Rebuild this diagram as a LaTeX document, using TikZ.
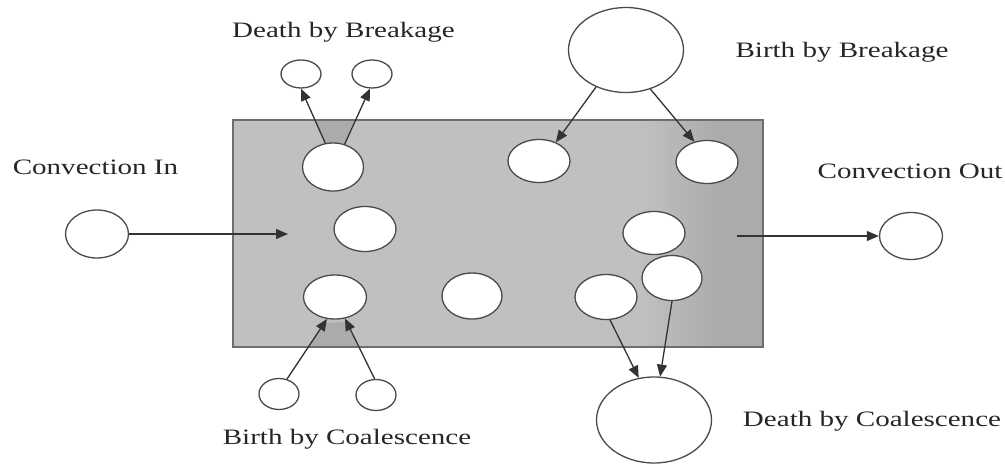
\documentclass[tikz,border=0pt]{standalone}
\usepackage{graphicx}
\usepackage{fontspec}
\setmainfont{Liberation Serif}
\usetikzlibrary{shapes.geometric,arrows.meta,calc}
\definecolor{boxgray}{HTML}{C0C0C0}
\definecolor{boxdark}{HTML}{ABABAB}
\definecolor{edgegray}{HTML}{6E6E6E}
\definecolor{ringgray}{HTML}{4A4A4A}
\definecolor{linegray}{HTML}{333333}
\tikzset{
  bub/.style={ellipse, draw=ringgray, fill=white, line width=1.3pt, inner sep=0pt},
  arr/.style={draw=linegray, line width=1.3pt, -{Triangle[length=12pt,width=10pt]}},
  lbl/.style={font=\fontsize{22}{26}\selectfont, text=black!85, inner sep=0pt, anchor=base}
}
\newcommand{\wide}[1]{\scalebox{1.32}[1]{#1}}
\begin{document}
\begin{tikzpicture}[x=1pt,y=-1pt]
\useasboundingbox (0,0) rectangle (1005,466);
% reactor box
\fill[boxgray] (233,120) rectangle (763,347);
\shade[left color=boxgray, right color=boxdark] (640,121) rectangle (721,346);
\fill[boxdark] (720,121) rectangle (762,346);
\fill[boxdark] (315,121) -- (354,121) -- (345,143) -- (325,143) -- cycle;
\fill[boxdark] (309,346) -- (359,346) -- (347,322) -- (325,323) -- cycle;
\draw[edgegray, line width=1.6pt] (233,120) rectangle (763,347);

% bubbles
\node[bub, minimum width=40pt, minimum height=28pt] (dbA) at (301,74) {};
\node[bub, minimum width=40pt, minimum height=28pt] (dbB) at (372,74) {};
\node[bub, minimum width=61pt, minimum height=48pt] (dbP) at (333,167) {};
\node[bub, minimum width=62pt, minimum height=45pt] (mL) at (365,229) {};
\node[bub, minimum width=63pt, minimum height=48pt] (cin) at (97,234) {};
\node[bub, minimum width=63pt, minimum height=44pt] (bcT) at (335,297) {};
\node[bub, minimum width=40pt, minimum height=31pt] (bcA) at (279,394) {};
\node[bub, minimum width=40pt, minimum height=31pt] (bcB) at (376,395) {};
\node[bub, minimum width=60pt, minimum height=46pt] (mC) at (472,296) {};
\node[bub, minimum width=115pt, minimum height=85pt] (bbP) at (626,50) {};
\node[bub, minimum width=62pt, minimum height=43pt] (uM) at (539,161) {};
\node[bub, minimum width=62pt, minimum height=43pt] (uR) at (707,162) {};
\node[bub, minimum width=62pt, minimum height=43pt] (rM) at (654,233) {};
\node[bub, minimum width=63pt, minimum height=47pt] (cout) at (911,236) {};
\node[bub, minimum width=62pt, minimum height=45pt] (lM) at (606,297) {};
\node[bub, minimum width=60pt, minimum height=45pt] (lR) at (672,278) {};
\node[bub, minimum width=115pt, minimum height=86pt] (dcP) at (654,420) {};

% free ends of convection arrows
\coordinate (cinEnd) at (288,234);
\coordinate (coutStart) at (737,236);

% connectors
\draw[arr] (dbP.108) -- (dbA.south);
\draw[arr] (dbP.63) -- (dbB.262);
\draw[arr] (bcA.62) -- (bcT.250);
\draw[arr] (bcB.95) -- (bcT.295);
\draw[arr] (cin.east) -- (cinEnd);
\draw[arr] (coutStart) -- (cout.west);
\draw[arr] (bbP.231) -- (uM.48);
\draw[arr] (bbP.302) -- (uR.122);
\draw[arr] (lM.280) -- (dcP.110);
\draw[arr] (lR.270) -- (dcP.82);

% labels
\node[lbl] (tDB) at (343.5,37) {\wide{Death by Breakage}};
\node[lbl] (tBB) at (842,57) {\wide{Birth by Breakage}};
\node[lbl] (tCI) at (95.5,174) {\wide{Convection In}};
\node[lbl] (tCO) at (910,178) {\wide{Convection Out}};
\node[lbl] (tBC) at (347,444) {\wide{Birth by Coalescence}};
\node[lbl] (tDC) at (872,426) {\wide{Death by Coalescence}};
\end{tikzpicture}
\end{document}
